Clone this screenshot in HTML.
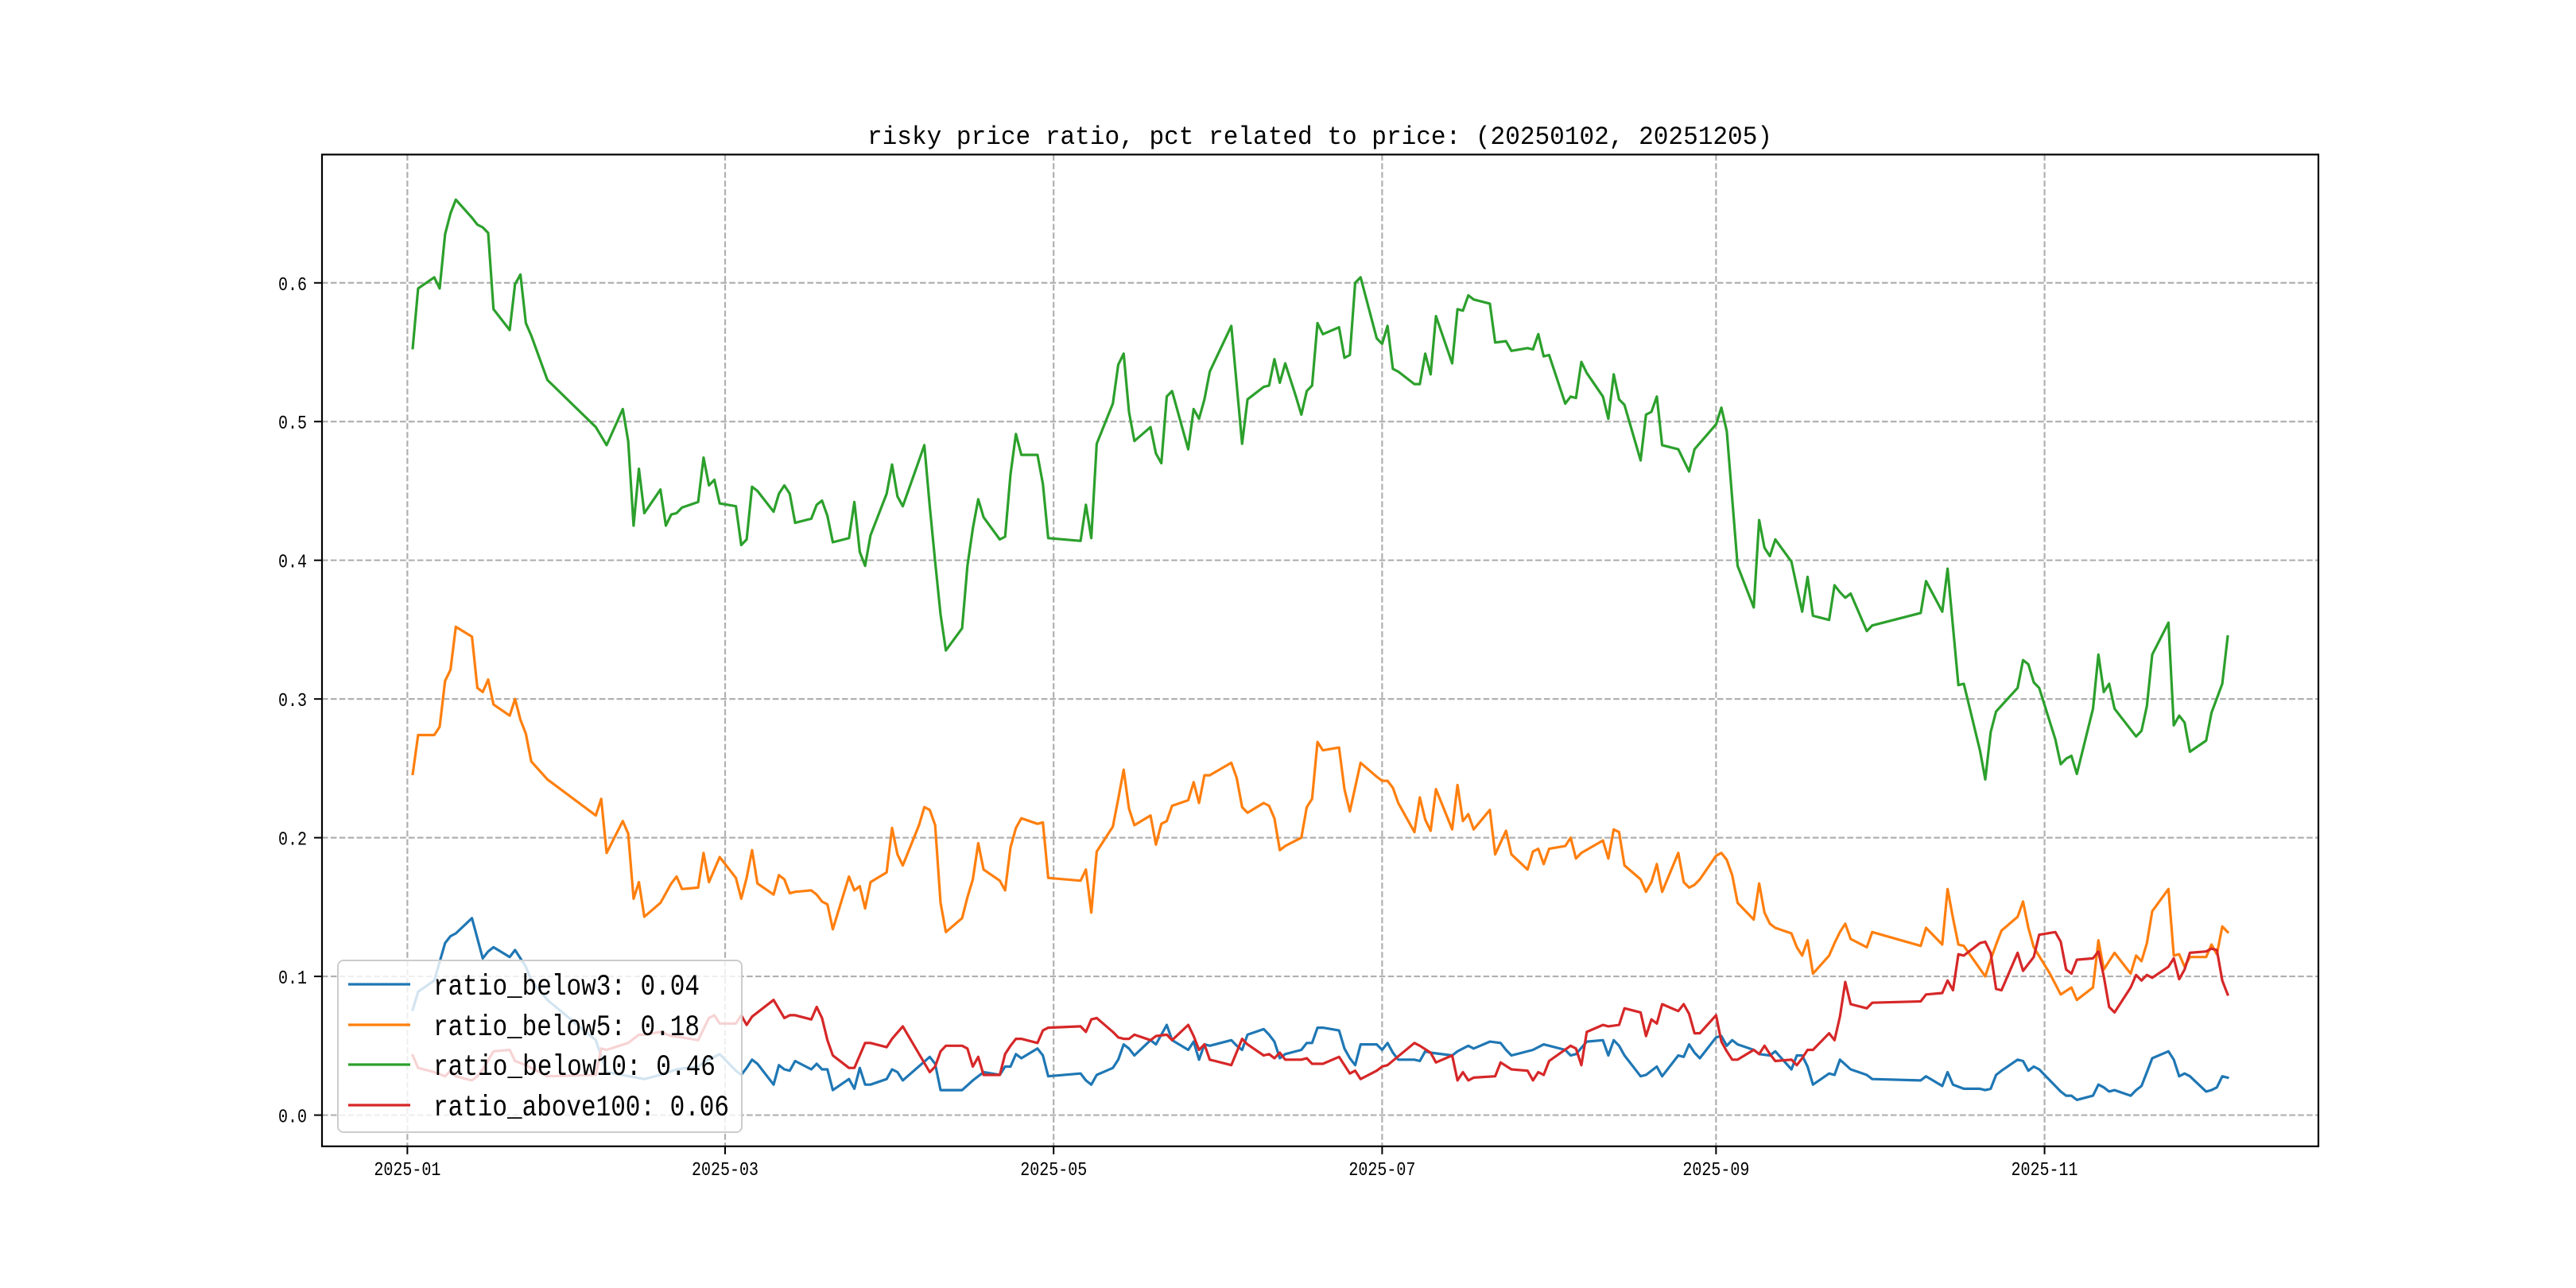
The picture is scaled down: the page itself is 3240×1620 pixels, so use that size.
<!DOCTYPE html>
<html><head><meta charset="utf-8">
<style>
html,body{margin:0;padding:0;background:#fff;}
svg{display:block;}
text{font-family:"Liberation Mono","Noto Sans CJK SC",monospace;fill:#000;}
</style></head>
<body>
<svg id="chart" width="3240" height="1620" viewBox="0 0 3240 1620" xmlns="http://www.w3.org/2000/svg">
<rect x="0" y="0" width="3240" height="1620" fill="#fff"/>
<text x="1660" y="181" font-size="32" text-anchor="middle" textLength="1138" lengthAdjust="spacingAndGlyphs">risky price ratio, pct related to price: (20250102, 20251205)</text>
<g id="grid"></g>
<g id="series"></g>
<rect x="405" y="194.4" width="2511" height="1247.4" fill="none" stroke="#000" stroke-width="2.2"/>
<g id="ticks"></g>
<g id="legend"></g>
</svg>
<script>
// x values are day offsets from 2025-01-01
const greenDays = [1,2,5,6,7,8,9,12,13,14,15,16,19,20,21,22,23,26,35,37,40,41,42,43,44,47,48,49,50,51,54,55,56,57,58,61,62,63,64,65,68,69,70,71,72,75,76,77,78,79,82,83,84,85,86,89,90,91,92,95,96,97,98,99,100,103,104,105,106,107,110,111,112,113,114,117,118,119,125,126,127,128,131,132,133,134,135,138,139,140,141,142,145,146,147,148,149,153,155,156,159,160,161,162,163,165,166,167,168,169,170,173,174,175,176,177,180,181,182,183,184,187,188,189,190,191,194,195,196,197,198,201,202,204,205,208,209,210,211,212,215,216,217,218,219,222,223,224,225,226,229,230,231,232,233,236,238,239,243,244,245,247,250,251,252,253,254,257,259,260,261,264,265,266,267,268,271,272,281,282,285,286,288,289,292,293,294,295,299,300,301,302,303,306,307,308,309,310,313,314,315,316,317,321,322,323,324,327,328,329,330,331,334,335,337,338];
const greenVals = [0.553,0.596,0.604,0.596,0.635,0.650,0.660,0.647,0.642,0.640,0.636,0.581,0.566,0.599,0.606,0.571,0.562,0.530,0.496,0.483,0.509,0.486,0.425,0.466,0.434,0.451,0.425,0.433,0.434,0.438,0.442,0.474,0.454,0.458,0.441,0.439,0.411,0.415,0.453,0.450,0.435,0.448,0.454,0.448,0.427,0.430,0.440,0.443,0.432,0.413,0.416,0.442,0.406,0.396,0.418,0.448,0.469,0.446,0.439,0.472,0.483,0.439,0.399,0.361,0.335,0.351,0.396,0.423,0.444,0.431,0.415,0.417,0.462,0.491,0.476,0.476,0.455,0.416,0.414,0.440,0.416,0.484,0.513,0.541,0.549,0.507,0.486,0.496,0.477,0.470,0.518,0.522,0.480,0.509,0.502,0.516,0.536,0.569,0.484,0.516,0.525,0.526,0.545,0.528,0.542,0.518,0.505,0.522,0.526,0.571,0.563,0.568,0.546,0.548,0.600,0.604,0.560,0.556,0.569,0.538,0.536,0.527,0.527,0.549,0.534,0.576,0.542,0.581,0.580,0.591,0.588,0.585,0.557,0.558,0.551,0.553,0.552,0.563,0.547,0.548,0.513,0.518,0.517,0.543,0.535,0.518,0.502,0.534,0.516,0.512,0.472,0.505,0.507,0.518,0.483,0.480,0.464,0.480,0.498,0.510,0.493,0.396,0.366,0.429,0.409,0.403,0.415,0.399,0.363,0.388,0.360,0.357,0.382,0.377,0.373,0.376,0.349,0.353,0.362,0.385,0.363,0.394,0.310,0.311,0.263,0.242,0.276,0.291,0.308,0.328,0.325,0.312,0.308,0.271,0.253,0.257,0.259,0.246,0.293,0.332,0.305,0.311,0.293,0.273,0.277,0.295,0.332,0.355,0.281,0.288,0.283,0.262,0.270,0.290,0.311,0.345];
const orangeDays = [1,2,5,6,7,8,9,12,13,14,15,16,19,20,21,22,23,26,35,36,37,40,41,42,43,44,47,48,49,50,51,54,55,56,58,61,62,63,64,65,68,69,70,71,72,75,76,77,78,79,82,83,84,85,86,89,90,91,92,95,96,97,98,99,100,103,104,105,106,107,110,111,112,113,114,117,118,119,125,126,127,128,131,132,133,134,135,138,139,140,141,142,145,146,147,148,149,153,154,155,156,159,160,161,162,163,166,167,168,169,170,173,174,175,177,180,181,182,183,184,187,188,189,190,191,194,195,196,197,198,201,202,204,205,208,209,210,211,212,215,216,217,218,222,223,224,225,226,229,230,231,232,233,236,237,238,239,240,243,244,245,246,247,250,251,252,253,254,257,258,259,260,261,264,265,266,267,268,271,272,281,282,285,286,287,288,289,293,294,295,296,299,300,301,302,305,307,309,310,313,314,315,316,317,320,321,322,323,324,327,328,329,330,331,334,335,336,337,338];
const orangeVals = [0.246,0.274,0.274,0.280,0.313,0.321,0.352,0.345,0.308,0.305,0.314,0.296,0.288,0.300,0.285,0.275,0.255,0.242,0.216,0.228,0.189,0.212,0.203,0.156,0.168,0.143,0.153,0.160,0.167,0.172,0.163,0.164,0.189,0.168,0.186,0.171,0.156,0.171,0.191,0.167,0.159,0.173,0.170,0.160,0.161,0.162,0.159,0.154,0.152,0.134,0.172,0.162,0.165,0.149,0.168,0.175,0.207,0.188,0.180,0.209,0.222,0.220,0.209,0.153,0.132,0.142,0.157,0.170,0.196,0.177,0.169,0.162,0.193,0.207,0.214,0.210,0.211,0.171,0.169,0.177,0.146,0.190,0.208,0.228,0.249,0.221,0.209,0.216,0.195,0.210,0.212,0.223,0.227,0.240,0.225,0.245,0.245,0.254,0.243,0.222,0.218,0.225,0.223,0.214,0.191,0.194,0.200,0.222,0.228,0.269,0.263,0.265,0.235,0.219,0.254,0.244,0.241,0.241,0.236,0.225,0.204,0.229,0.213,0.205,0.235,0.206,0.238,0.212,0.217,0.206,0.220,0.188,0.205,0.188,0.177,0.190,0.192,0.181,0.192,0.194,0.200,0.185,0.189,0.198,0.185,0.206,0.204,0.180,0.170,0.161,0.168,0.181,0.161,0.189,0.168,0.164,0.166,0.170,0.187,0.189,0.184,0.173,0.153,0.141,0.167,0.146,0.138,0.135,0.131,0.121,0.115,0.126,0.102,0.115,0.124,0.132,0.138,0.127,0.121,0.132,0.122,0.135,0.123,0.163,0.142,0.123,0.122,0.100,0.112,0.123,0.133,0.143,0.154,0.135,0.121,0.102,0.087,0.092,0.083,0.092,0.126,0.105,0.111,0.117,0.102,0.115,0.111,0.124,0.147,0.163,0.115,0.116,0.107,0.114,0.114,0.123,0.116,0.136,0.132];
const blueDays = [1,2,5,7,8,9,12,14,15,16,19,20,22,23,26,35,37,44,47,50,54,55,58,61,62,63,64,65,68,69,70,71,72,75,76,77,78,79,82,83,84,85,86,89,90,91,92,97,98,99,103,105,107,110,111,112,113,114,117,118,119,125,126,127,128,131,132,133,134,135,138,139,140,141,142,145,146,147,148,149,153,154,155,156,159,160,161,162,163,166,167,168,169,170,173,174,175,176,177,180,181,182,183,184,187,188,189,190,194,195,196,197,198,201,203,204,205,209,211,215,216,217,219,222,223,224,225,226,229,230,232,233,236,237,238,239,240,243,244,245,246,247,250,251,253,254,257,258,259,260,261,264,265,266,268,271,272,281,282,285,286,287,289,292,293,294,295,296,299,300,301,302,303,307,308,309,310,313,314,315,316,317,320,321,322,323,324,327,328,329,330,331,334,335,336,337,338];
const blueVals = [0.076,0.089,0.097,0.124,0.129,0.131,0.142,0.113,0.118,0.121,0.114,0.119,0.107,0.097,0.083,0.054,0.031,0.026,0.029,0.033,0.035,0.038,0.044,0.032,0.029,0.034,0.040,0.037,0.022,0.036,0.033,0.032,0.039,0.033,0.037,0.033,0.033,0.018,0.026,0.019,0.034,0.022,0.022,0.026,0.033,0.031,0.025,0.042,0.037,0.018,0.018,0.025,0.031,0.029,0.035,0.035,0.044,0.041,0.048,0.043,0.028,0.030,0.025,0.022,0.029,0.034,0.040,0.051,0.048,0.043,0.054,0.051,0.058,0.065,0.054,0.047,0.053,0.040,0.051,0.050,0.054,0.050,0.047,0.058,0.062,0.058,0.053,0.041,0.044,0.047,0.052,0.052,0.063,0.063,0.061,0.048,0.041,0.036,0.051,0.051,0.047,0.052,0.045,0.040,0.040,0.039,0.046,0.045,0.043,0.046,0.048,0.050,0.048,0.053,0.052,0.047,0.043,0.047,0.051,0.047,0.043,0.044,0.053,0.054,0.043,0.054,0.050,0.043,0.028,0.029,0.035,0.028,0.043,0.042,0.051,0.045,0.041,0.056,0.057,0.050,0.054,0.051,0.047,0.044,0.043,0.046,0.033,0.043,0.043,0.035,0.022,0.030,0.029,0.040,0.033,0.029,0.026,0.025,0.028,0.021,0.031,0.022,0.019,0.019,0.018,0.019,0.029,0.032,0.040,0.039,0.032,0.035,0.033,0.017,0.014,0.014,0.011,0.014,0.022,0.020,0.017,0.018,0.014,0.018,0.021,0.031,0.041,0.046,0.040,0.028,0.030,0.028,0.017,0.018,0.020,0.028,0.027];
const redDays = [1,2,5,7,8,9,12,13,14,16,19,20,22,26,35,36,37,41,43,44,47,49,51,54,56,57,58,61,62,63,64,68,70,71,72,75,76,77,78,79,82,83,85,86,89,90,92,97,98,99,100,103,104,105,106,107,110,111,112,113,114,117,118,119,125,126,127,128,131,132,133,134,135,138,139,141,142,145,146,147,148,149,153,155,156,159,160,161,162,163,166,167,168,170,173,174,175,176,177,180,181,182,187,188,190,191,194,195,196,197,198,202,203,205,208,209,210,211,212,216,217,218,219,222,223,225,226,229,230,231,232,233,236,237,238,239,240,243,244,245,246,247,250,251,252,253,254,257,258,259,260,261,264,265,266,267,268,271,272,281,282,285,286,287,288,289,292,293,294,295,296,299,300,302,303,306,307,308,309,310,313,314,315,316,317,320,321,322,323,324,327,328,329,330,331,334,335,336,337,338];
const redVals = [0.043,0.034,0.031,0.028,0.032,0.028,0.025,0.028,0.033,0.046,0.047,0.039,0.036,0.028,0.029,0.048,0.047,0.052,0.058,0.058,0.060,0.057,0.056,0.054,0.070,0.072,0.066,0.066,0.072,0.065,0.071,0.083,0.070,0.072,0.072,0.069,0.078,0.070,0.054,0.043,0.034,0.034,0.052,0.052,0.049,0.055,0.064,0.031,0.035,0.046,0.050,0.050,0.048,0.035,0.042,0.029,0.029,0.044,0.050,0.055,0.055,0.052,0.061,0.063,0.064,0.060,0.069,0.070,0.060,0.056,0.055,0.055,0.058,0.054,0.057,0.058,0.054,0.065,0.057,0.047,0.051,0.040,0.036,0.055,0.051,0.043,0.044,0.041,0.045,0.040,0.040,0.041,0.037,0.037,0.042,0.036,0.030,0.032,0.026,0.032,0.035,0.036,0.052,0.050,0.045,0.038,0.043,0.025,0.031,0.025,0.027,0.028,0.038,0.033,0.032,0.025,0.031,0.029,0.039,0.050,0.048,0.036,0.060,0.065,0.064,0.065,0.077,0.074,0.057,0.069,0.066,0.080,0.075,0.080,0.073,0.059,0.059,0.072,0.053,0.046,0.040,0.040,0.047,0.044,0.050,0.044,0.039,0.040,0.036,0.041,0.047,0.047,0.059,0.054,0.071,0.096,0.080,0.077,0.081,0.082,0.087,0.088,0.097,0.090,0.116,0.115,0.124,0.125,0.117,0.091,0.090,0.117,0.104,0.114,0.130,0.132,0.125,0.105,0.102,0.112,0.113,0.118,0.100,0.078,0.074,0.092,0.101,0.097,0.101,0.099,0.107,0.113,0.098,0.105,0.117,0.118,0.120,0.119,0.097,0.087];
const yTickValues = [0.0,0.1,0.2,0.3,0.4,0.5,0.6];
const yTickLabels = ["0.0","0.1","0.2","0.3","0.4","0.5","0.6"];
const xTickDays = [0,59,120,181,243,304];
const xTickLabels = ["2025-01","2025-03","2025-05","2025-07","2025-09","2025-11"];
const legendLabels = ["ratio_below3: 0.04","ratio_below5: 0.18","ratio_below10: 0.46","ratio_above100: 0.06"];

const NS = "http://www.w3.org/2000/svg";
const AX = {l:405, r:2916, t:194.4, b:1441.8};
const XMIN = -15.85, XMAX = 354.85, YMIN = -0.0225, YMAX = 0.6925;
function xs(d){ return AX.l + (d - XMIN) / (XMAX - XMIN) * (AX.r - AX.l); }
function ys(v){ return AX.b - (v - YMIN) / (YMAX - YMIN) * (AX.b - AX.t); }
function mk(tag, attrs, parent){
  const e = document.createElementNS(NS, tag);
  for (const k in attrs) e.setAttribute(k, attrs[k]);
  parent.appendChild(e);
  return e;
}
const grid = document.getElementById('grid');
const ticks = document.getElementById('ticks');
yTickValues.forEach((v, i) => {
  const y = ys(v);
  const gl = mk('line', {x1:AX.l, x2:AX.r, y1:y, y2:y, stroke:'#b0b0b0', 'stroke-width':2.2, 'stroke-dasharray':'7.6,3.3'}, grid);
  
  
  const tk = mk('line', {x1:AX.l - 10, x2:AX.l, y1:y, y2:y, stroke:'#000', 'stroke-width':2}, ticks);
  
  
  const t = mk('text', {x:386, y:y + 9, 'font-size':24, 'text-anchor':'end', textLength:36, lengthAdjust:'spacingAndGlyphs'}, ticks);
  t.textContent = yTickLabels[i];
  
  
});
xTickDays.forEach((d, i) => {
  const x = xs(d);
  const gl = mk('line', {x1:x, x2:x, y1:AX.t, y2:AX.b, stroke:'#b0b0b0', 'stroke-width':2.2, 'stroke-dasharray':'7.6,3.3'}, grid);
  
  
  const tk = mk('line', {x1:x, x2:x, y1:AX.b, y2:AX.b + 10, stroke:'#000', 'stroke-width':2}, ticks);
  
  
  const t = mk('text', {x:x, y:1478, 'font-size':24, 'text-anchor':'middle', textLength:84, lengthAdjust:'spacingAndGlyphs'}, ticks);
  t.textContent = xTickLabels[i];
  
  
});
const seriesG = document.getElementById('series');
const seriesList = [
  {days: blueDays, vals: blueVals, color: '#1f77b4', name: 'line-ratio-below3'},
  {days: orangeDays, vals: orangeVals, color: '#ff7f0e', name: 'line-ratio-below5'},
  {days: greenDays, vals: greenVals, color: '#2ca02c', name: 'line-ratio-below10'},
  {days: redDays, vals: redVals, color: '#d62728', name: 'line-ratio-above100'}
];
seriesList.forEach(s => {
  const pts = s.days.map((d, i) => xs(d).toFixed(1) + ',' + ys(s.vals[i]).toFixed(1)).join(' ');
  const pl = mk('polyline', {points: pts, fill:'none', stroke:s.color, 'stroke-width':3.2, 'stroke-linejoin':'round', 'stroke-linecap':'square'}, seriesG);
  
  
});
const lg = document.getElementById('legend');
const box = mk('rect', {x:425, y:1208, width:508, height:216, rx:7, fill:'#fff', 'fill-opacity':0.8, stroke:'#cccccc', 'stroke-width':2}, lg);


const lgY = [1238, 1289, 1339, 1390];
const lgW = [335, 335, 355, 372];
seriesList.forEach((s, i) => {
  const ln = mk('line', {x1:438, x2:516, y1:lgY[i], y2:lgY[i], stroke:s.color, 'stroke-width':3.2}, lg);
  
  
  const t = mk('text', {x:545, y:lgY[i] + 13, 'font-size':37, textLength:lgW[i], lengthAdjust:'spacingAndGlyphs'}, lg);
  t.textContent = legendLabels[i];
  
  
});
</script>
</body></html>
